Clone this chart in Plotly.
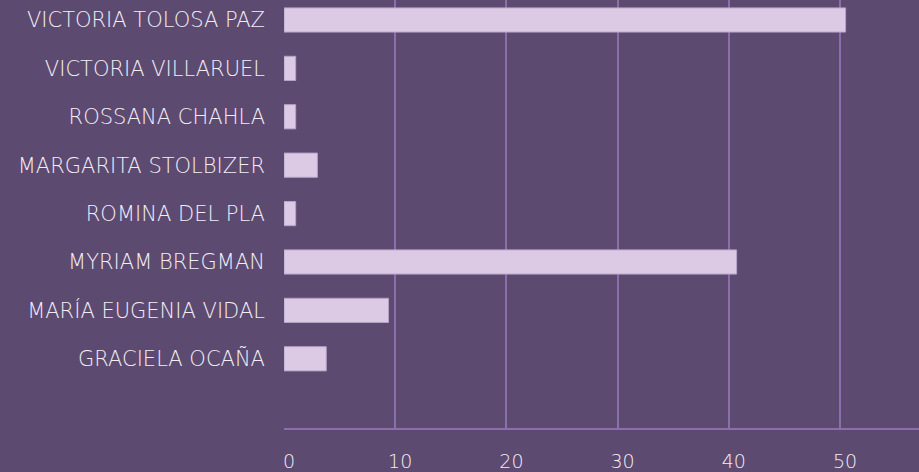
import plotly.graph_objects as go

# data -------------------------------------------------------------------------
candidatas = [
    "VICTORIA TOLOSA PAZ",
    "VICTORIA VILLARUEL",
    "ROSSANA CHAHLA",
    "MARGARITA STOLBIZER",
    "ROMINA DEL PLA",
    "MYRIAM BREGMAN",
    "MARÍA EUGENIA VIDAL",
    "GRACIELA OCAÑA",
]
valores = [50.5, 1.05, 1.05, 3.0, 1.05, 40.7, 9.4, 3.8]
x_ticks = [0, 10, 20, 30, 40, 50]

# style ------------------------------------------------------------------------
BKGCOL = "#5d4a70"
BARCOL = "#dccae5"
BARLIN = "#b7a2c9"
GRDCOL = "#8a6fab"
TXTCOL = "#f3eef6"
FONT = "DejaVu Sans"

fig = go.Figure()
fig.add_trace(go.Bar(
    x=valores, y=candidatas,
    orientation="h",
    marker=dict(color=BARCOL, line=dict(color=BARLIN, width=1)),
    hoverinfo="x+y",
))

fig.update_layout(
    width=919, height=472,
    paper_bgcolor=BKGCOL, plot_bgcolor=BKGCOL,
    margin=dict(l=284, r=0, t=0, b=44, pad=0),
    font=dict(family=FONT, size=21, color=TXTCOL, weight=200),
    bargap=0.5,
    showlegend=False,
)
fig.update_xaxes(
    range=[0, 57.1],
    tickvals=x_ticks,
    automargin=False,
    showgrid=True, gridcolor=GRDCOL, gridwidth=1.5,
    zeroline=True, zerolinecolor=BKGCOL, zerolinewidth=1,
    showline=True, linecolor=GRDCOL, linewidth=1.5,
    ticks="", ticklabelstandoff=15, ticklabelshift=5,
    tickfont=dict(family=FONT, size=19, color=TXTCOL, weight=200),
    fixedrange=True,
)
fig.update_yaxes(
    type="category",
    categoryorder="array", categoryarray=candidatas,
    range=[8.43, -0.413],
    automargin=False,
    showgrid=False, zeroline=False, showline=False,
    ticks="", ticklabelstandoff=18,
    tickfont=dict(family=FONT, size=21, color=TXTCOL, weight=200),
    fixedrange=True,
)

# page without the default body margin so the chart fills the window
fig.write_html(
    "out.html",
    config=dict(displayModeBar=False),
    post_script="document.body.style.margin='0';",
)
